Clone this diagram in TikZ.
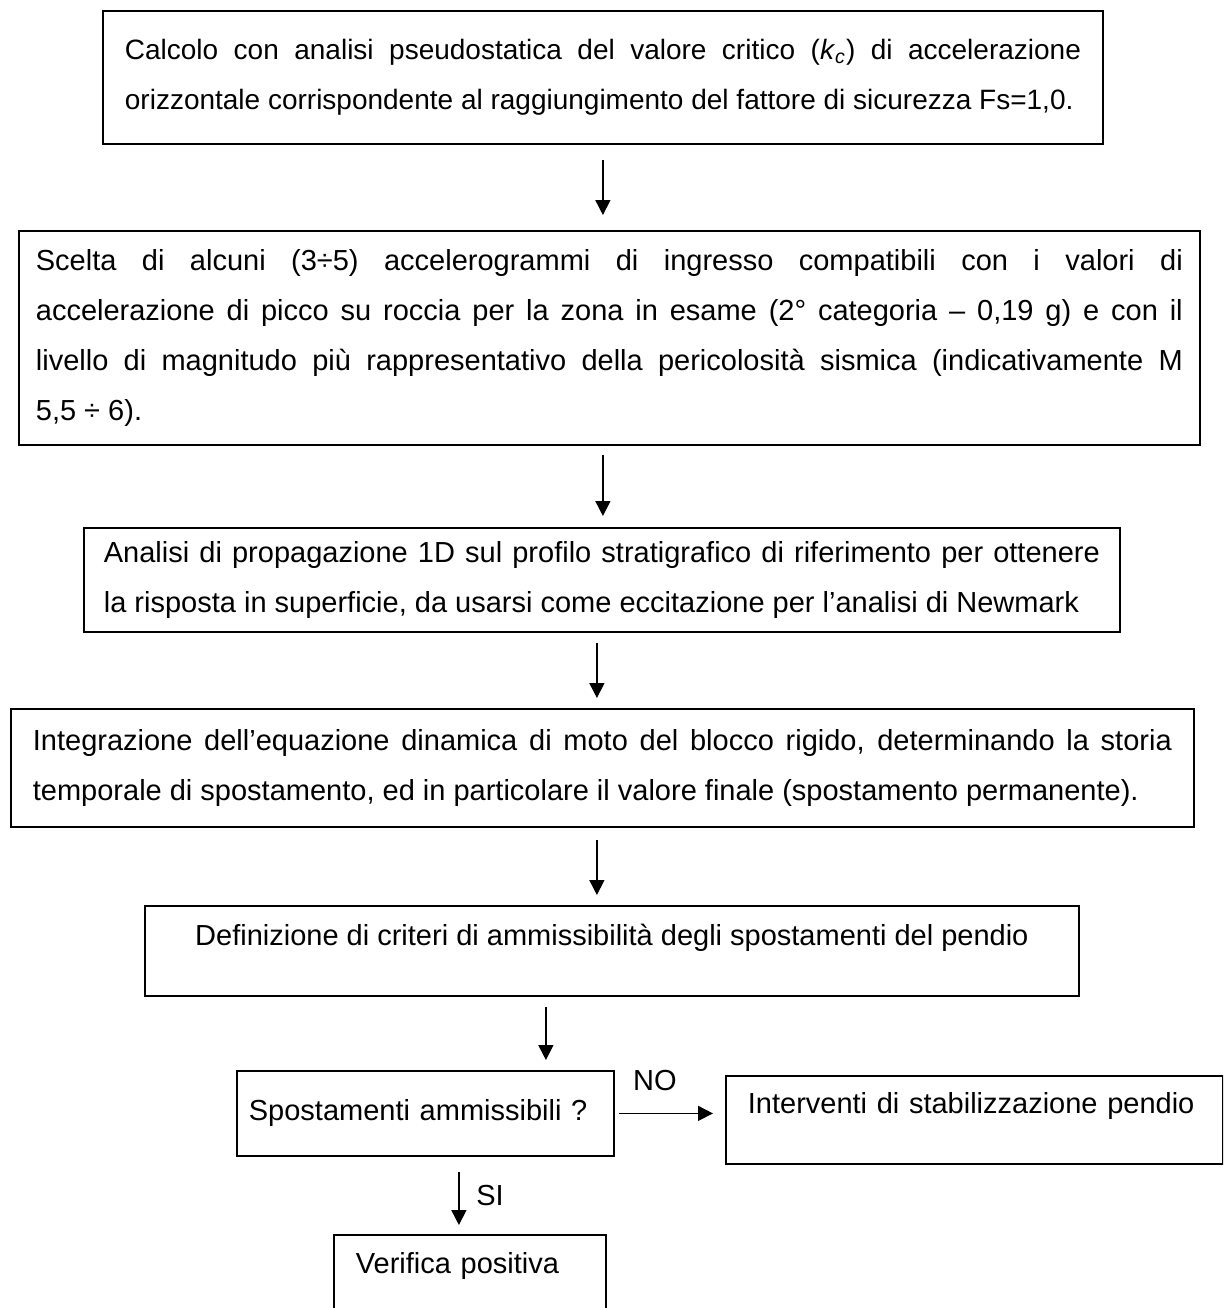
\documentclass[tikz,border=0pt]{standalone}
\usepackage{fontspec}
\setmainfont{Liberation Sans}
\usetikzlibrary{arrows.meta}
\tolerance=9999
\hbadness=10000

\begin{document}
\begin{tikzpicture}[x=0.5pt, y=-0.5pt,
  block/.style={draw, line width=0.9pt, inner ysep=0pt, anchor=north west,
    font=\fontsize{14.5}{25}\selectfont},
  para/.style={block, align=justify},
  arrow/.style={-{Triangle[length=7.5pt, width=7.5pt]}, line width=0.8pt}
]
\clip (0,0) rectangle (1223,1308);
% main chain
\node[para, font=\fontsize{14}{25}\selectfont, inner xsep=11pt, text width=478pt, minimum height=66.5pt] (b1) at (102,10)
  {Calcolo con analisi pseudostatica del valore critico (\textit{k}\textsubscript{\textit{c}}) di accelerazione\linebreak
   orizzontale corrispondente al raggiungimento del fattore di sicurezza Fs=1,0.};
\node[para, inner xsep=8.5pt, text width=573.5pt, minimum height=107pt] (b2) at (18,230)
  {Scelta di alcuni (3÷5) accelerogrammi di ingresso compatibili con i valori di\linebreak
   accelerazione di picco su roccia per la zona in esame (2° categoria – 0,19 g) e con il\linebreak
   livello di magnitudo più rappresentativo della pericolosità sismica (indicativamente M\linebreak
   5,5 ÷ 6).};
\node[para, inner xsep=10pt, text width=498pt, minimum height=52pt] (b3) at (83,527)
  {Analisi di propagazione 1D sul profilo stratigrafico di riferimento per ottenere\linebreak
   la risposta in superficie, da usarsi come eccitazione per l’analisi di Newmark};
\node[para, inner xsep=11pt, text width=569.5pt, minimum height=59pt] (b4) at (10,708)
  {Integrazione dell’equazione dinamica di moto del blocco rigido, determinando la storia\linebreak
   temporale di spostamento, ed in particolare il valore finale (spostamento permanente).};
\node[block, minimum width=467pt, text height=20pt, text depth=25pt] (b5) at (144,905)
  {Definizione di criteri di ammissibilità degli spostamenti del pendio};
% decision
\node[block, align=left, inner xsep=6pt, text width=176.5pt, text height=25pt, text depth=17.5pt] (b6) at (236,1070)
  {Spostamenti ammissibili ?};
\node[block, align=left, inner xsep=11pt, text width=226.5pt, text height=19pt, text depth=25pt] (b7) at (725,1075)
  {Interventi di stabilizzazione pendio};
\node[block, align=left, inner xsep=11pt, text width=114pt, text height=19.5pt, text depth=25pt] (b8) at (333,1234)
  {Verifica positiva};

\draw[arrow, shorten <=7.5pt, shorten >=7.5pt] (b1.south) -- (b1.south |- b2.north);
\draw[arrow, shorten <=4.5pt, shorten >=5.5pt] (b1.south |- b2.south) -- (b1.south |- b3.north);
\draw[arrow, shorten <=5pt, shorten >=5pt] ([xshift=-2.5pt]b3.south) -- ([xshift=-2.5pt]b3.south |- b4.north);
\draw[arrow, shorten <=6pt, shorten >=5pt] ([xshift=-2.5pt]b3.south |- b4.south) -- ([xshift=-2.5pt]b3.south |- b5.north);
\draw[arrow, shorten <=5pt, shorten >=5pt] ([xshift=-33pt]b5.south) -- ([xshift=-33pt]b5.south |- b6.north);
\draw[arrow, shorten <=2pt, shorten >=6pt] (b6.east) -- node[above=7.5pt, xshift=-7.5pt, font=\fontsize{14.5}{25}\selectfont]{NO} (b7.west |- b6.east);
\draw[arrow, shorten <=7.5pt, shorten >=4.5pt] ([xshift=16.75pt]b6.south) -- node[right=5pt, font=\fontsize{14.5}{25}\selectfont]{SI} ([xshift=16.75pt]b6.south |- b8.north);
\end{tikzpicture}
\end{document}
